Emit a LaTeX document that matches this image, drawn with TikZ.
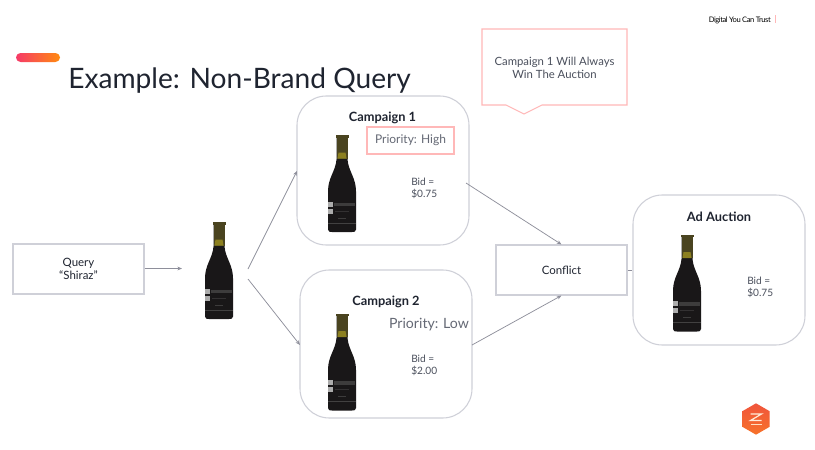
\documentclass[tikz,border=0pt]{standalone}
\usepackage{fontspec}
\setmainfont{Lato}
\usetikzlibrary{arrows.meta,shapes.geometric}
\definecolor{linegray}{HTML}{CFD0D8}
\definecolor{arrowgray}{HTML}{8E8F9B}
\definecolor{pinkline}{HTML}{FFB8B8}
\definecolor{inkdark}{HTML}{1F2430}
\definecolor{inkgray}{HTML}{4A4F5C}
\definecolor{bottleblack}{HTML}{191718}
\definecolor{capolive}{HTML}{4A4420}
\definecolor{capgold}{HTML}{8C8020}
\definecolor{barpink}{HTML}{F63A68}
\definecolor{barorange}{HTML}{FF8A10}
\definecolor{hextop}{HTML}{F0553C}
\definecolor{hexbot}{HTML}{F7722A}
\newcommand{\fsz}[1]{\fontsize{#1}{#1}\selectfont}
\tikzset{
  x=0.75pt,y=-0.75pt,
  roundbox/.style={draw=linegray,line width=0.8pt,rounded corners=22pt,fill=white},
  plainbox/.style={draw=linegray,line width=0.8pt,fill=white,align=center,inner sep=0pt,font=\fsz{8.6},text=inkdark},
  conn/.style={draw=arrowgray,line width=0.55pt,-{Stealth[length=3.5pt,width=2.8pt]}},
  connplain/.style={draw=arrowgray,line width=0.55pt},
  head/.style={font=\fsz{9.6}\bfseries,text=inkdark,inner sep=0pt},
  bidtext/.style={font=\fsz{7.6},text=inkgray,align=left,inner sep=0pt,anchor=north west},
  bottle/.pic={
    \fill[bottleblack] (-5.5,-48) -- (-5.5,-24) .. controls (-6.5,-12) and (-14,-6) .. (-14,8)
      -- (-14,46) .. controls (-14,48.5) and (-12,48.5) .. (-10,48.5) -- (10,48.5)
      .. controls (12,48.5) and (14,48.5) .. (14,46) -- (14,8)
      .. controls (14,-6) and (6.5,-12) .. (5.5,-24) -- (5.5,-48) -- cycle;
    \fill[capolive] (-5.5,-48.5) rectangle (5.5,-25);
    \fill[capolive] (-6.5,-48.5) rectangle (6.5,-46);
    \fill[capgold] (-3.5,-31) -- (3.5,-31) -- (4.5,-25) -- (-4.5,-25) -- cycle;
    \fill[gray!65] (-14,18) rectangle (-9,23);
    \fill[gray!65] (-14,25) rectangle (-9,30);
    \fill[gray!35!bottleblack] (-8,19) rectangle (13,22.5);
    \fill[gray!25!bottleblack] (-7,27) rectangle (7,28);
    \fill[gray!35!bottleblack] (-4,34) rectangle (4,35.2);
    \fill[gray!40!bottleblack] (-14,39) rectangle (14,39.6);
  }
}
\begin{document}
\begin{tikzpicture}
\useasboundingbox (0,0) rectangle (815,450);
\fill[white] (0,0) rectangle (815,450);

% header
\shade[rounded corners=3.4pt,left color=barpink,right color=barorange] (16,53) rectangle (60,62);
\node[name=title,anchor=base west,inner sep=0pt,font=\fsz{21.1},text=inkdark] at (68,88) {Example: Non-Brand Query};
\node[name=tag,anchor=base east,inner sep=0pt,font=\fsz{5.7}\addfontfeature{LetterSpace=-6},text=black] at (771,22) {Digital You Can Trust};
\draw[pinkline,line width=0.5pt] (775,15) -- (775,23);

% containers
\node[name=c1,roundbox,minimum width=129pt,minimum height=111.75pt,inner sep=0pt] at (383,170.5) {};
\node[name=c2,roundbox,minimum width=129pt,minimum height=111pt,inner sep=0pt] at (386,344) {};
\node[name=ad,roundbox,minimum width=129pt,minimum height=112.5pt,inner sep=0pt] at (719,270) {};
\node[name=conflict,plainbox,minimum width=98.25pt,minimum height=37.5pt] at (561.5,270) {Conflict};
\node[name=query,plainbox,minimum width=98.25pt,minimum height=37.5pt] at (78.5,269) {Query\\[0.8pt]``Shiraz''};

% headings
\node[name=h1,head] at (382.5,118) {Campaign 1};
\node[name=h2,head] at (386,302) {Campaign 2};
\node[name=h3,head] at (719,217) {Ad Auction};

% priorities
\node[name=p1,draw=pinkline,line width=0.8pt,minimum width=65.25pt,minimum height=20.25pt,inner sep=0pt,font=\fsz{9},text=inkgray!85] at (410.5,140.5) {Priority: High};
\node[name=p2,inner sep=0pt,font=\fsz{10.6},text=inkgray!85] at (429,325) {Priority: Low};

% bids
\node[name=b1,bidtext] at (411,178) {Bid =\\[1.4pt]\$0.75};
\node[name=b2,bidtext] at (411,355) {Bid =\\[1.4pt]\$2.00};
\node[name=b3,bidtext] at (747,277) {Bid =\\[1.4pt]\$0.75};

% bottles
\coordinate (bq) at (219,270.5);
\pic at (bq) {bottle};
\pic at (342,183.5) {bottle};
\pic at (342,362) {bottle};
\pic at (687,283) {bottle};

% callout
\draw[name=call,draw=pinkline,line width=0.8pt,fill=white] (482,29) -- (627,29) -- (627,105) -- (542,105) -- (524,114) -- (506,105) -- (482,105) -- cycle;
\node[name=calltext,align=center,inner sep=0pt,font=\fsz{8.5},text=inkgray] at (554.5,68) {Campaign 1 Will Always\\[1.2pt]Win The Auction};

% connector ends
\coordinate (qend) at (182,268.5);
\coordinate (fork1) at (248,269);
\coordinate (fork2) at (248,279);
\coordinate (c1in) at (297,171);
\coordinate (c2in) at (300,345);
\coordinate (c1out) at (466,183);
\coordinate (c2out) at (472,345);
\draw[conn] (query.east |- qend) -- (qend);
\draw[conn] (fork1) -- (c1in);
\draw[conn] (fork2) -- (c2in);
\draw[conn] (c1out) -- (conflict.north);
\draw[conn] (c2out) -- (conflict.south);
\draw[connplain] (conflict.east) -- (ad.west);

% logo
\node[name=logo,regular polygon,regular polygon sides=6,shape border rotate=30,minimum size=23.5pt,inner sep=0pt,top color=hextop,bottom color=hexbot] at (756,419) {};
\draw[white!85!orange,line width=0.9pt] (750.5,414) -- (761.5,414) -- (750.5,420.5) -- (761.5,420.5);
\draw[white!75!orange,line width=0.9pt] (750.5,424.5) -- (761.5,424.5);
\end{tikzpicture}
\end{document}
